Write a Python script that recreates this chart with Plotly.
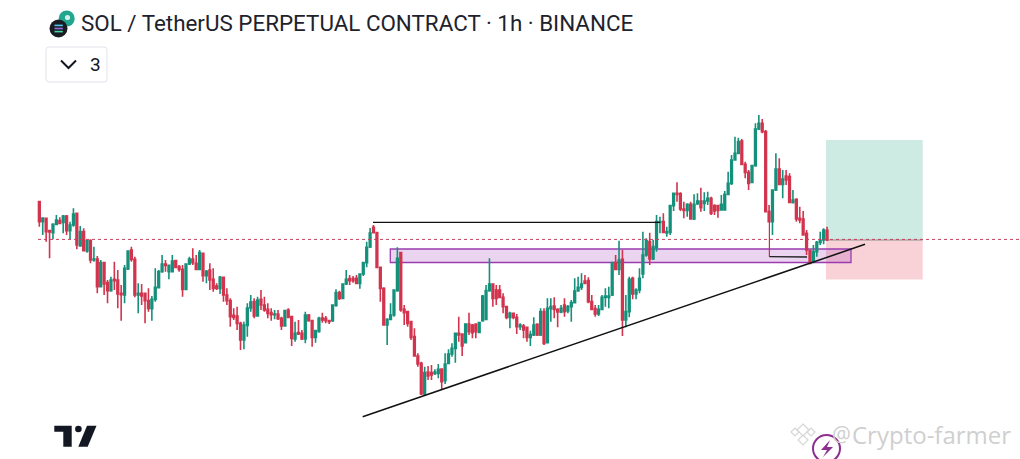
import plotly.graph_objects as go

W, H = 1020, 459
TITLE = "SOL / TetherUS PERPETUAL CONTRACT · 1h · BINANCE"
BADGE = "3"
WATERMARK = "Crypto-farmer"

opens = [772,712,722,685,679,704,715,710,729,685,702,737,639,682,624,655,597,600,517,589,529,505,539,537,497,492,570,627,599,492,497,497,475,451,479,514,562,585,562,562,595,577,569,509,585,600,587,569,617,550,567,539,519,512,545,492,475,431,429,407,357,401,453,472,429,479,462,449,439,433,435,422,399,447,427,360,379,377,360,432,415,365,383,423,422,415,415,461,499,482,525,541,541,542,527,555,589,636,
 695,679,575,512,402,419,432,505,619,449,442,412,367,309,287,195,261,259,257,257,270,235,287,315,332,377,375,349,405,402,405,380,415,419,505,525,507,507,485,457,425,437,425,397,399,395,365,372,404,372,442,349,451,459,449,441,462,444,457,469,504,515,534,535,472,451,435,449,485,485,492,589,569,599,417,442,542,495,507,555,612,652,600,635,
 710,712,678,680,760,797,796,750,746,764,720,766,774,767,774,782,760,760,747,747,794,827,897,917,954,884,860,830,880,990,1007,982,742,712,807,870,824,849,847,769,779,722,720,677,625,592,622,650,657,686]
highs = [775,725,722,687,707,732,725,732,732,712,752,739,699,692,657,659,637,609,597,589,537,547,592,567,522,582,625,637,607,527,525,497,512,489,572,567,612,597,582,612,597,582,582,587,607,632,612,627,619,567,587,572,527,549,547,512,482,452,457,412,412,467,492,482,487,507,487,467,452,447,447,427,447,452,429,412,417,387,442,435,417,387,427,439,429,417,462,509,505,527,567,552,549,552,557,592,652,693,
 702,682,577,515,422,467,509,635,622,462,442,412,392,317,292,277,279,282,269,285,272,317,329,347,379,427,377,407,439,405,407,412,492,522,602,527,522,522,497,459,442,439,435,407,405,397,385,425,407,452,452,482,482,485,452,462,482,462,477,542,547,557,552,545,492,462,462,492,512,517,592,612,655,627,492,547,547,512,572,682,662,679,657,732,
 727,737,697,762,797,830,800,772,767,772,794,797,814,800,802,787,764,762,792,804,862,912,967,964,960,892,867,882,1007,1032,1020,987,762,807,917,902,867,867,857,807,782,757,744,687,627,642,654,682,692,697]
lows = [697,672,652,602,659,702,704,677,672,659,697,629,637,625,619,587,592,497,515,492,467,502,507,452,415,467,567,592,485,437,462,407,442,415,472,512,559,562,539,562,572,562,487,507,582,582,567,567,532,527,507,502,507,495,472,462,397,417,387,327,329,367,442,422,427,447,442,422,415,419,417,387,397,422,339,352,372,357,347,412,337,349,379,409,407,405,411,457,477,479,522,522,529,525,511,549,575,633,
 677,572,472,402,342,417,427,502,442,402,397,357,307,277,192,192,237,237,252,242,207,225,285,307,289,352,309,347,372,362,362,377,412,417,502,457,462,482,437,419,392,419,375,387,362,352,339,369,369,369,342,347,412,422,395,437,427,437,412,467,502,507,525,467,447,427,429,447,457,452,489,567,552,369,395,425,479,479,497,542,607,582,597,622,
 677,677,667,672,744,772,744,722,727,720,717,762,742,744,762,732,732,724,747,747,792,822,897,914,882,842,807,827,877,987,977,742,712,672,804,827,782,822,770,767,712,707,670,612,584,587,607,642,644,654]
closes = [712,723,682,681,704,717,707,729,685,702,735,642,682,625,655,597,600,517,589,525,505,537,535,495,493,572,624,599,492,497,489,475,452,479,515,562,585,581,581,594,575,569,509,585,600,589,569,619,550,563,537,512,512,545,492,475,427,425,407,357,402,453,471,429,477,462,447,437,433,435,421,399,445,425,362,377,375,360,432,415,365,385,422,417,415,412,462,499,482,525,539,535,535,527,555,589,635,678,
 679,575,512,402,419,432,507,602,447,439,407,365,309,285,195,259,249,252,261,269,232,285,315,332,377,372,339,405,382,379,382,409,489,505,525,482,482,485,457,425,437,425,397,402,387,365,373,402,372,442,347,452,457,449,441,452,442,457,469,504,515,525,527,472,449,435,449,485,489,489,589,569,597,417,442,539,495,507,542,612,655,600,637,712,
 712,680,682,760,797,794,750,746,764,720,764,774,754,774,782,737,744,746,764,794,827,897,917,952,884,860,827,880,990,1007,982,742,712,807,870,824,840,837,770,777,720,717,672,627,587,622,650,657,687,657]
candle_index = list(range(len(opens)))

GREEN, RED = "#15907b", "#d2344e"

# px -> data scale of the chart
X0, DX = 39.33, 3.41
def xv(px): return (px - X0) / DX
def yv(py): return (H - py) * 3

resistance_x = [373, 660]; resistance_y = 222.3
trend_x = [362.7, 865]; trend_y = [416.7, 244.3]
last_price_y = 239.4

fig = go.Figure(go.Candlestick(
    x=candle_index, open=opens, high=highs, low=lows, close=closes,
    increasing=dict(line=dict(color=GREEN, width=1.6), fillcolor=GREEN),
    decreasing=dict(line=dict(color=RED, width=1.6), fillcolor=RED),
    whiskerwidth=0, showlegend=False, hoverinfo="skip"))

def rect(x0, y0, x1, y1, fill, line=None, lw=0, layer="below"):
    return dict(type="rect", xref="x", yref="y", x0=xv(x0), x1=xv(x1), y0=yv(y0), y1=yv(y1),
                fillcolor=fill, line=dict(color=line or fill, width=lw), layer=layer)
def seg(x0, y0, x1, y1, color, lw=1.5, dash="solid", layer="above"):
    return dict(type="line", xref="x", yref="y", x0=xv(x0), x1=xv(x1), y0=yv(y0), y1=yv(y1),
                line=dict(color=color, width=lw, dash=dash), layer=layer)
def circle(cx, cy, r, fill="rgba(0,0,0,0)", line=None, lw=0):
    return dict(type="circle", xref="x", yref="y", x0=xv(cx-r), x1=xv(cx+r), y0=yv(cy-r), y1=yv(cy+r),
                fillcolor=fill, line=dict(color=line or fill, width=lw), layer="above")
def path(points, fill=None, line=None, lw=0, close=False, layer="above"):
    d = "M " + " L ".join(f"{xv(x):.3f},{yv(y):.2f}" for x, y in points) + (" Z" if close else "")
    return dict(type="path", path=d, xref="x", yref="y", fillcolor=fill or "rgba(0,0,0,0)",
                line=dict(color=line or "rgba(0,0,0,0)", width=lw), layer=layer)

shapes = [
    rect(826, 140, 922.7, 240, "#cdeae3"),
    rect(826, 240, 922.7, 279.5, "#f9d2d8"),
    rect(390.3, 249, 851, 262.5, "rgba(156,39,176,0.2)", "#9b3cb0", 1.3),
    seg(826, 240, 922.7, 240, "#8f8f8f", 1.2, layer="below"),
    seg(38, last_price_y, 1020, last_price_y, "#c2415c", 1, "dot"),
    seg(resistance_x[0], resistance_y, resistance_x[1], resistance_y, "#111111", 1.3),
    seg(trend_x[0], trend_y[0], trend_x[1], trend_y[1], "#111111", 1.5),
    seg(769.4, 222, 769.4, 256.7, "#c2334b", 1.2),
    seg(769.4, 256.7, 807, 257, "#222222", 1.3),
    # symbol icons
    circle(66.7, 18.5, 8, "#21a68f"),
    circle(67.5, 17.5, 2.6, "#d5efe9"),
    circle(58.5, 28.5, 9, "#1a1c24"),
    seg(54.5, 25.4, 62.8, 25.4, "#4fc8e6", 1.6),
    seg(54.5, 28.5, 62.8, 28.5, "#9a6be0", 1.6),
    seg(54.5, 31.6, 62.8, 31.6, "#45d8a8", 1.6),
    # badge
    dict(type="path", xref="x", yref="y",
         path=("M {:.3f},{} L {:.3f},{} Q {:.3f},{} {:.3f},{} L {:.3f},{} Q {:.3f},{} {:.3f},{} "
               "L {:.3f},{} Q {:.3f},{} {:.3f},{} L {:.3f},{} Q {:.3f},{} {:.3f},{} Z").format(
             xv(49), yv(47), xv(104), yv(47), xv(107), yv(47), xv(107), yv(50),
             xv(107), yv(79), xv(107), yv(82), xv(104), yv(82),
             xv(49), yv(82), xv(46), yv(82), xv(46), yv(79),
             xv(46), yv(50), xv(46), yv(47), xv(49), yv(47)),
         line=dict(color="#e0e3eb", width=1), fillcolor="white", layer="below"),
    path([(61, 60.5), (68.5, 68), (76, 60.5)], line="#131722", lw=2),
    # TradingView mark
    path([(54.3, 425.7), (71.7, 425.7), (71.7, 446.7), (63.3, 446.7), (63.3, 431.7), (54.3, 431.7)], fill="#131722", close=True),
    circle(78.4, 429, 3.3, "#131722"),
    path([(87, 425.7), (96.5, 425.7), (87.7, 446.7), (78.3, 446.7)], fill="#131722", close=True),
    # watermark marks
    path([(803, 424), (809, 430), (803, 436), (797, 430)], line="#d6d6d6", lw=1.2, close=True),
    path([(795, 428), (799, 432), (795, 436), (791, 432)], line="#d6d6d6", lw=1.2, close=True),
    path([(811, 428), (815, 432), (811, 436), (807, 432)], line="#d6d6d6", lw=1.2, close=True),
    path([(803, 435), (808, 440), (803, 445), (798, 440)], line="#d6d6d6", lw=1.2, close=True),
    circle(826.5, 448.5, 13.5, "rgba(255,255,255,0.6)", "#8c2f8f", 2),
    path([(830, 440), (821, 450), (827, 450), (823, 457), (833, 447), (827, 447)], fill="#8c2f8f", close=True),
]

annotations = [
    dict(x=xv(79), y=yv(22.7), xref="x", yref="y", text=TITLE, showarrow=False, xanchor="left", yanchor="middle",
         font=dict(family="Roboto", size=22.4, color="#1e222d")),
    dict(x=xv(95), y=yv(64), xref="x", yref="y", text=BADGE, showarrow=False, xanchor="center", yanchor="middle",
         font=dict(family="Roboto", size=19, color="#131722")),
    dict(x=xv(830), y=yv(433.5), xref="x", yref="y", text="@", showarrow=False, xanchor="left", yanchor="middle",
         font=dict(family="Open Sans", size=21, color="#cfcfcf")),
    dict(x=xv(850), y=yv(434), xref="x", yref="y", text=WATERMARK, showarrow=False, xanchor="left", yanchor="middle",
         font=dict(family="Open Sans", size=24, color="#cfcfcf")),
]

fig.update_layout(
    width=W, height=H, margin=dict(l=0, r=0, t=0, b=0),
    paper_bgcolor="white", plot_bgcolor="white", showlegend=False,
    shapes=shapes, annotations=annotations,
    xaxis=dict(range=[xv(0), xv(W)], visible=False, rangeslider=dict(visible=False), fixedrange=True),
    yaxis=dict(range=[yv(H), yv(0)], visible=False, fixedrange=True),
)
fig.write_html("out.html", config={"displayModeBar": False},
               post_script="document.body.style.margin='0';document.body.style.overflow='hidden';")
